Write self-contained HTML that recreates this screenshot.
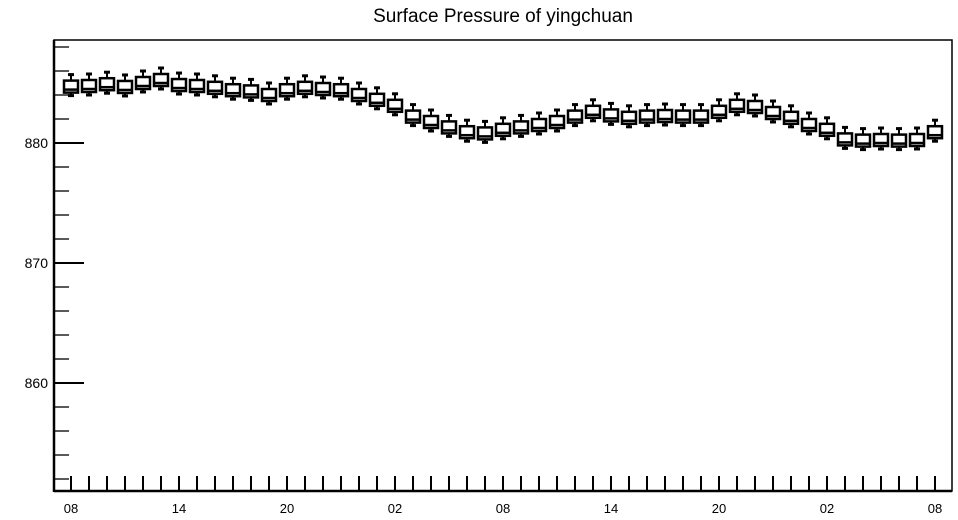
<!DOCTYPE html>
<html><head><meta charset="utf-8"><style>
body{margin:0;background:#fff;}
svg{display:block;font-family:"Liberation Sans",sans-serif;}
</style></head><body>
<svg id="chart" width="958" height="520">
<text x="503" y="22" text-anchor="middle" font-size="19">Surface Pressure of yingchuan</text>
<g id="plot"></g>
</svg>
<script>
const hourLabels = ["08","14","20","02","08","14","20","02","08"];
const yTickValues = [860, 870, 880];
const centers = [884.7,884.75,884.9,884.67,885.0,885.25,884.83,884.75,884.6,884.4,884.3,884.0,884.4,884.6,884.5,884.4,884.0,883.6,883.1,882.2,881.75,881.3,880.9,880.8,881.1,881.3,881.5,881.75,882.2,882.6,882.3,882.1,882.2,882.25,882.2,882.2,882.6,883.1,883.0,882.5,882.1,881.5,881.1,880.3,880.2,880.25,880.2,880.25,880.9];
const q3s = [885.2,885.25,885.4,885.17,885.5,885.75,885.33,885.25,885.1,884.9,884.8,884.5,884.9,885.1,885.0,884.9,884.5,884.1,883.6,882.7,882.25,881.8,881.4,881.3,881.6,881.8,882.0,882.25,882.7,883.1,882.8,882.6,882.7,882.75,882.7,882.7,883.1,883.6,883.5,883.0,882.6,882.0,881.6,880.8,880.7,880.75,880.7,880.75,881.4];
const q1s = [884.2,884.25,884.4,884.17,884.5,884.75,884.33,884.25,884.1,883.9,883.8,883.5,883.9,884.1,884.0,883.9,883.5,883.1,882.6,881.7,881.25,880.8,880.4,880.3,880.6,880.8,881.0,881.25,881.7,882.1,881.8,881.6,881.7,881.75,881.7,881.7,882.1,882.6,882.5,882.0,881.6,881.0,880.6,879.8,879.7,879.75,879.7,879.75,880.4];
const medians = [884.45,884.5,884.65,884.42,884.75,885.0,884.58,884.5,884.35,884.15,884.05,883.75,884.15,884.35,884.25,884.15,883.75,883.35,882.85,881.95,881.5,881.05,880.65,880.55,880.85,881.05,881.25,881.5,881.95,882.35,882.05,881.85,881.95,882.0,881.95,881.95,882.35,882.85,882.75,882.25,881.85,881.25,880.85,880.05,879.95,880.0,879.95,880.0,880.65];
const maxs = [885.7,885.75,885.9,885.67,886.0,886.25,885.83,885.75,885.6,885.4,885.3,885.0,885.4,885.6,885.5,885.4,885.0,884.6,884.1,883.2,882.75,882.3,881.9,881.8,882.1,882.3,882.5,882.75,883.2,883.6,883.3,883.1,883.2,883.25,883.2,883.2,883.6,884.1,884.0,883.5,883.1,882.5,882.1,881.3,881.2,881.25,881.2,881.25,881.9];
const mins = [883.95,884.0,884.15,883.92,884.25,884.5,884.08,884.0,883.85,883.65,883.55,883.25,883.65,883.85,883.75,883.65,883.25,882.85,882.35,881.45,881.0,880.55,880.15,880.05,880.35,880.55,880.75,881.0,881.45,881.85,881.55,881.35,881.45,881.5,881.45,881.45,881.85,882.35,882.25,881.75,881.35,880.75,880.35,879.55,879.45,879.5,879.45,879.5,880.15];

const NS="http://www.w3.org/2000/svg";
const g=document.getElementById('plot');
const L=54,R=952,T=40,B=491;
function yS(v){return 143+(880-v)*12;}
function xS(i){return 71+i*18;}
function mk(tag,attrs){const e=document.createElementNS(NS,tag);for(const k in attrs)e.setAttribute(k,attrs[k]);g.appendChild(e);return e;}
let e;
e=mk('rect',{x:L,y:T,width:R-L,height:B-T,fill:'none',stroke:'#000','stroke-width':1.5});


e=mk('line',{x1:L,y1:T,x2:L,y2:B+1,stroke:'#000','stroke-width':2.5});


e=mk('line',{x1:L,y1:B,x2:R,y2:B,stroke:'#000','stroke-width':2.5});


// y ticks every 2 units
for(let v=852;v<=888;v+=2){
  const major=v%10===0;
  e=mk('line',{x1:L,y1:yS(v),x2:L+(major?30:15),y2:yS(v),stroke:'#000','stroke-width':major?2:1.3});
  
  
}
yTickValues.forEach(v=>{
  e=mk('text',{x:48,y:yS(v)+5,'text-anchor':'end','font-size':14});
  e.textContent=v;
  
  
});
for(let i=0;i<centers.length;i++){
  e=mk('line',{x1:xS(i),y1:476,x2:xS(i),y2:B,stroke:'#000','stroke-width':2});
  
  
}
hourLabels.forEach((h,k)=>{
  e=mk('text',{x:xS(k*6),y:513,'text-anchor':'middle','font-size':13});
  e.textContent=h;
  
  
});
for(let i=0;i<centers.length;i++){
  const x=xS(i);
  const bg=document.createElementNS(NS,'g');g.appendChild(bg);
  
  
  const add=(tag,a)=>{const el=document.createElementNS(NS,tag);for(const k in a)el.setAttribute(k,a[k]);bg.appendChild(el);return el;};
  add('line',{x1:x,y1:yS(maxs[i]),x2:x,y2:yS(q3s[i]),stroke:'#000','stroke-width':2});
  add('line',{x1:x,y1:yS(q1s[i]),x2:x,y2:yS(mins[i]),stroke:'#000','stroke-width':2});
  add('line',{x1:x-3,y1:yS(maxs[i]),x2:x+3,y2:yS(maxs[i]),stroke:'#000','stroke-width':3});
  add('line',{x1:x-3,y1:yS(mins[i]),x2:x+3,y2:yS(mins[i]),stroke:'#000','stroke-width':3});
  add('rect',{x:x-7,y:yS(q3s[i]),width:14,height:yS(q1s[i])-yS(q3s[i]),fill:'#fff',stroke:'#000','stroke-width':2.5});
  add('line',{x1:x-7,y1:yS(medians[i]),x2:x+7,y2:yS(medians[i]),stroke:'#000','stroke-width':2.5});
}
</script>
</body></html>
